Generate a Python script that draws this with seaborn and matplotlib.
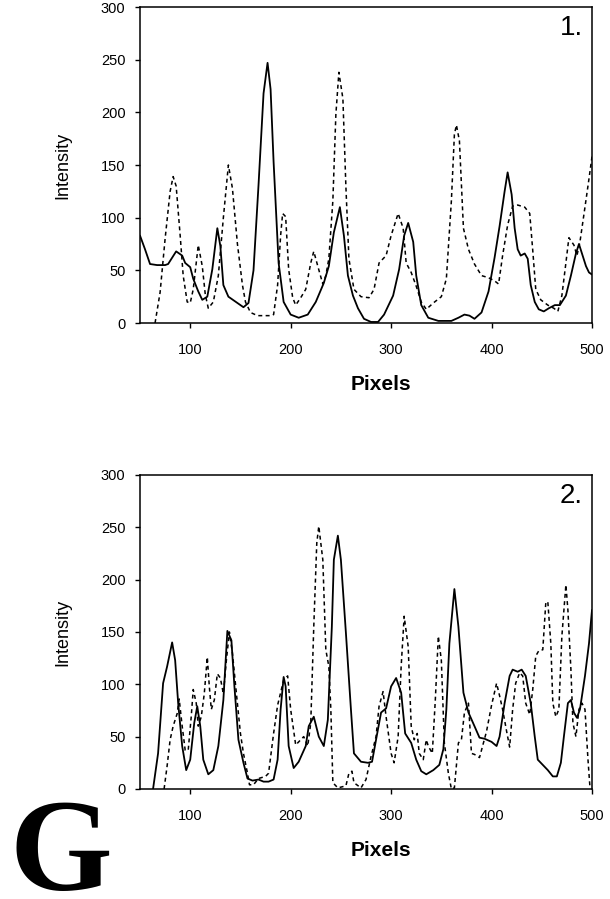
import matplotlib
matplotlib.use("Agg")
import matplotlib.pyplot as plt
import seaborn as sns

# ---- data (pixel position vs intensity) ----
p1_solid_x = [50, 55, 60, 67, 75, 78, 86, 92, 95, 100, 103, 108, 112, 117, 122, 127, 130,
              133, 138, 147, 153, 158, 163, 168, 173, 177, 180, 183, 188, 193, 200, 208,
              217, 225, 233, 238, 243, 249, 253, 257, 262, 267, 273, 280, 287, 293, 302,
              308, 313, 317, 322, 325, 330, 337, 347, 360, 367, 373, 378, 383, 390, 397,
              403, 408, 413, 416, 420, 423, 426, 429, 433, 436, 439, 443, 447, 452, 457,
              463, 468, 474, 479, 484, 487, 490, 494, 497, 500]
p1_solid_y = [83, 70, 56, 55, 55, 56, 68, 64, 57, 53, 42, 30, 22, 25, 51, 90, 73,
              36, 25, 19, 15, 19, 50, 131, 218, 247, 222, 153, 57, 20, 8, 5,
              8, 20, 38, 54, 86, 110, 83, 45, 26, 14, 4, 1, 1, 8, 26,
              51, 83, 95, 77, 45, 17, 5, 2, 2, 5, 8, 7, 4, 10, 30,
              62, 92, 125, 143, 122, 90, 70, 64, 66, 61, 36, 20, 13, 11, 14,
              17, 17, 26, 45, 66, 75, 66, 54, 48, 46]

p1_dash_x = [65, 70, 75, 80, 83, 86, 90, 93, 97, 100, 103, 108, 112, 115, 118, 123, 128,
             133, 138, 142, 147, 152, 155, 160, 167, 180, 183, 187, 190, 192, 195, 198,
             202, 205, 210, 215, 220, 223, 227, 232, 235, 238, 242, 245, 248, 252, 255,
             258, 263, 270, 278, 283, 288, 295, 300, 307, 312, 315, 320, 325, 330, 335,
             342, 350, 355, 360, 363, 365, 368, 372, 377, 383, 390, 397, 403, 407, 411,
             416, 421, 426, 433, 438, 441, 444, 449, 456, 462, 466, 470, 474, 477, 482,
             485, 488, 493, 497, 500]
p1_dash_y = [0, 29, 80, 125, 139, 130, 83, 45, 20, 19, 32, 74, 54, 27, 14, 20, 45,
             100, 150, 128, 75, 36, 20, 10, 7, 7, 8, 36, 83, 104, 101, 51,
             24, 17, 24, 32, 57, 68, 54, 37, 45, 61, 116, 198, 238, 213, 129,
             61, 32, 25, 24, 32, 57, 64, 83, 104, 90, 57, 48, 35, 20, 13,
             19, 25, 42, 116, 179, 188, 173, 90, 70, 56, 45, 43, 40, 37, 64,
             93, 111, 112, 110, 104, 69, 32, 22, 17, 14, 11, 26, 57, 81, 74,
             64, 77, 110, 137, 158]

p2_solid_x = [63, 68, 73, 77, 82, 85, 88, 92, 96, 100, 104, 107, 110, 113, 118, 123, 128,
              133, 137, 141, 144, 148, 153, 157, 162, 168, 173, 178, 183, 187, 190, 193,
              195, 198, 203, 208, 215, 218, 223, 228, 233, 237, 241, 243, 247, 250, 255,
              260, 263, 270, 277, 281, 285, 290, 295, 300, 305, 310, 314, 320, 325, 330,
              335, 342, 348, 352, 355, 358, 363, 367, 372, 377, 383, 388, 393, 400, 405,
              408, 413, 418, 421, 426, 430, 434, 439, 443, 446, 452, 456, 461, 465, 469,
              472, 476, 479, 482, 485, 488, 493, 497, 500]
p2_solid_y = [0, 34, 101, 117, 140, 123, 82, 41, 18, 28, 63, 79, 60, 28, 14, 18, 41,
              85, 151, 142, 98, 47, 25, 10, 8, 9, 7, 7, 9, 28, 76, 107,
              98, 41, 20, 26, 41, 60, 69, 50, 41, 66, 155, 219, 242, 219, 149,
              76, 34, 26, 25, 26, 47, 73, 77, 98, 106, 92, 53, 44, 28, 17,
              14, 18, 23, 38, 76, 139, 191, 155, 92, 73, 60, 49, 48, 45, 41,
              50, 82, 108, 114, 112, 114, 108, 82, 50, 28, 22, 18, 12, 12, 25,
              50, 82, 85, 73, 68, 76, 108, 139, 171]

p2_dash_x = [74, 77, 80, 83, 87, 89, 92, 95, 98, 101, 103, 106, 108, 111, 114, 117, 119,
             121, 124, 127, 130, 133, 136, 139, 142, 146, 150, 153, 157, 159, 163, 168,
             175, 178, 183, 187, 190, 193, 197, 200, 205, 210, 213, 217, 220, 223, 226,
             228, 232, 235, 238, 240, 242, 247, 255, 258, 261, 263, 270, 275, 280, 285,
             288, 292, 295, 300, 303, 307, 310, 313, 317, 320, 323, 326, 328, 332, 335,
             337, 341, 344, 347, 350, 353, 357, 360, 363, 367, 370, 373, 377, 380, 383,
             388, 395, 400, 405, 408, 411, 415, 418, 421, 424, 428, 431, 434, 438, 441,
             444, 447, 451, 454, 456, 459, 461, 464, 467, 470, 474, 476, 479, 481, 484,
             487, 490, 493, 496, 498]
p2_dash_y = [0, 22, 47, 60, 72, 86, 60, 37, 37, 69, 95, 82, 60, 69, 91, 126, 98,
             76, 85, 110, 106, 91, 123, 150, 130, 91, 53, 34, 15, 4, 4, 10,
             12, 15, 53, 80, 92, 104, 108, 76, 42, 47, 50, 41, 63, 155, 235,
             251, 219, 133, 117, 76, 6, 1, 3, 15, 17, 6, 1, 9, 31, 50,
             79, 93, 69, 34, 25, 50, 117, 165, 136, 60, 47, 53, 34, 28, 47,
             41, 34, 85, 146, 123, 44, 15, 0, 1, 44, 47, 73, 82, 34, 33,
             30, 55, 80, 101, 89, 76, 55, 40, 76, 101, 111, 108, 82, 71, 95,
             127, 132, 133, 178, 179, 139, 82, 69, 76, 146, 195, 171, 114, 63, 50,
             76, 82, 76, 28, 1]

panel_labels = ["1.", "2."]
x_ticks = [100, 200, 300, 400, 500]
y_ticks = [0, 50, 100, 150, 200, 250, 300]

sns.set_theme(style="ticks", rc={
    "axes.edgecolor": "black",
    "axes.linewidth": 1.1,
    "xtick.color": "black",
    "ytick.color": "black",
    "text.color": "black",
    "axes.labelcolor": "black",
})
plt.rcParams["font.family"] = ["Liberation Sans", "DejaVu Sans"]

fig = plt.figure(figsize=(6.1, 8.99), dpi=100)
ax1 = fig.add_axes([0.2295, 0.6407, 0.741, 0.3515])
ax2 = fig.add_axes([0.2295, 0.1224, 0.741, 0.3493])

panels = [
    (ax1, p1_solid_x, p1_solid_y, p1_dash_x, p1_dash_y),
    (ax2, p2_solid_x, p2_solid_y, p2_dash_x, p2_dash_y),
]

for (ax, sx, sy, dx, dy), lab in zip(panels, panel_labels):
    sns.lineplot(x=sx, y=sy, ax=ax, color="black", lw=1.3, sort=False)
    sns.lineplot(x=dx, y=dy, ax=ax, color="black", lw=1.1, sort=False,
                 linestyle=(0, (2.6, 2.2)))
    ax.set_xlim(50, 500)
    ax.set_ylim(0, 300)
    ax.set_xticks(x_ticks)
    ax.set_yticks(y_ticks)
    ax.tick_params(direction="out", length=3.5, width=1, labelsize=10.5)
    ax.tick_params(axis="x", pad=11)
    ax.tick_params(axis="y", pad=7)
    ax.set_xlabel("Pixels", fontsize=15, fontweight="bold")
    ax.xaxis.set_label_coords(0.533, -0.165)
    ax.set_ylabel("Intensity", fontsize=13)
    ax.yaxis.set_label_coords(-0.152, 0.5)
    ax.text(0.98, 0.975, lab, transform=ax.transAxes, ha="right", va="top",
            fontsize=20)
    for sp in ax.spines.values():
        sp.set_visible(True)

fig.text(0.016, 0.01, "G", fontfamily="Liberation Serif", fontweight="bold",
         fontsize=95, va="baseline", ha="left")

fig.savefig("out.png", dpi=100)
